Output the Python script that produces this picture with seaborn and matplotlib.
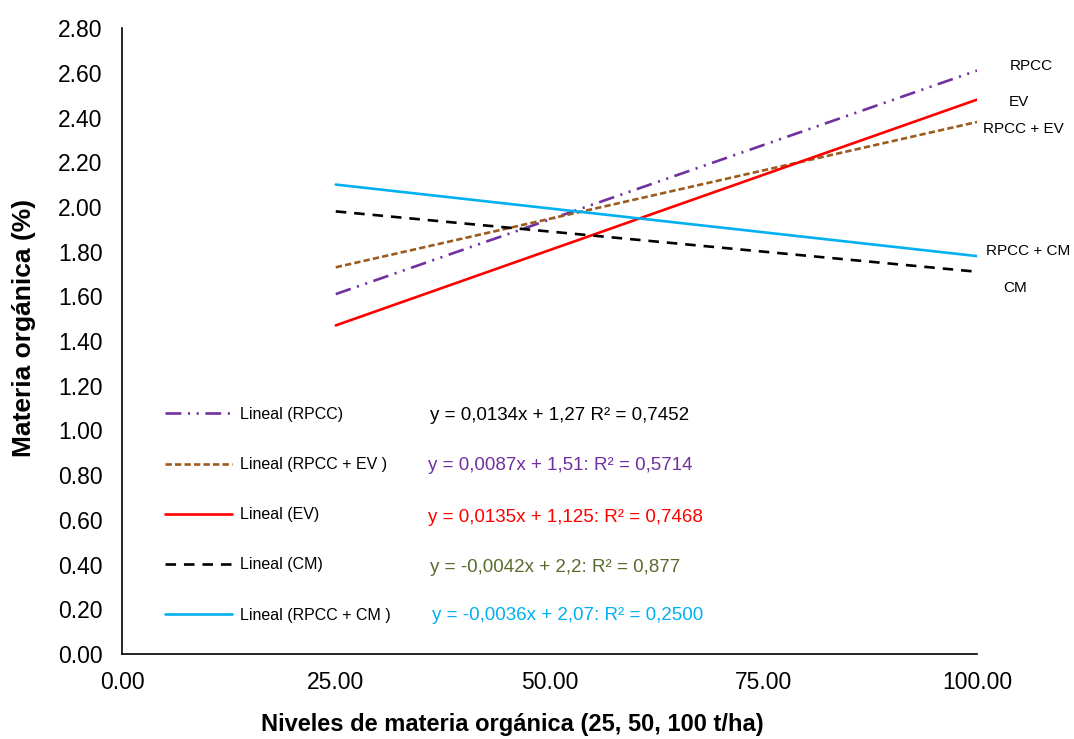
import matplotlib
matplotlib.use("Agg")
import matplotlib.pyplot as plt
import seaborn as sns
import pandas as pd
from matplotlib.lines import Line2D
from matplotlib.ticker import FormatStrFormatter

# data (trend lines, x = 25 and x = 100)
x_levels = [25, 100]
series_names = ["RPCC", "RPCC + EV", "EV", "CM", "RPCC + CM"]
rpcc = [1.61, 2.61]
rpcc_ev = [1.73, 2.38]
ev = [1.47, 2.48]
cm = [1.98, 1.71]
rpcc_cm = [2.10, 1.78]

legend_labels = ["Lineal (RPCC)", "Lineal (RPCC + EV )", "Lineal (EV)",
                 "Lineal (CM)", "Lineal (RPCC + CM )"]
equations = ["y = 0,0134x + 1,27 R² = 0,7452",
             "y = 0,0087x + 1,51: R² = 0,5714",
             "y = 0,0135x + 1,125: R² = 0,7468",
             "y = -0,0042x + 2,2: R² = 0,877",
             "y = -0,0036x + 2,07: R² = 0,2500"]

colors = ["#7030A0", "#9C5B1E", "#FF0000", "#000000", "#00B0F0"]
eq_colors = ["#000000", "#7030A0", "#FF0000", "#5A6B2E", "#00B0F0"]
styles = [(0, (6, 2.5, 0.8, 2.5, 0.8, 2.5)), (0, (2.4, 1.2)), "-",
          (0, (4, 3)), "-"]

sns.set_style("white")
plt.rcParams["font.family"] = ["Liberation Sans", "DejaVu Sans"]
plt.rcParams["text.color"] = "black"
plt.rcParams["axes.labelcolor"] = "black"
plt.rcParams["xtick.color"] = "black"
plt.rcParams["ytick.color"] = "black"

fig = plt.figure(figsize=(10.74, 7.39), dpi=100)
ax = fig.add_axes([0.1136, 0.115, 0.7961, 0.847])

values = [rpcc, rpcc_ev, ev, cm, rpcc_cm]
for name, vals, c, ls in zip(series_names, values, colors, styles):
    df = pd.DataFrame({"x": x_levels, "y": vals})
    sns.lineplot(data=df, x="x", y="y", ax=ax, color=c, linestyle=ls,
                 linewidth=1.9)

ax.set_xlim(0, 100)
ax.set_ylim(0, 2.8)
ax.set_xticks([0, 25, 50, 75, 100])
ax.set_yticks([i * 0.2 for i in range(15)])
ax.xaxis.set_major_formatter(FormatStrFormatter("%.2f"))
ax.yaxis.set_major_formatter(FormatStrFormatter("%.2f"))
ax.tick_params(axis="x", length=0, pad=12, labelsize=16.5)
ax.tick_params(axis="y", length=0, pad=14, labelsize=16.5)
for s in ["top", "right"]:
    ax.spines[s].set_visible(False)
for s in ["left", "bottom"]:
    ax.spines[s].set_color("black")
    ax.spines[s].set_linewidth(1.2)

ax.set_xlabel("Niveles de materia orgánica (25, 50, 100 t/ha)",
              fontsize=17, fontweight="bold")
ax.set_ylabel("Materia orgánica (%)", fontsize=19, fontweight="bold")
ax.xaxis.set_label_coords(0.456, -0.095)
ax.yaxis.set_label_coords(-0.101, 0.521)

handles = [Line2D([0], [0], color=c, linestyle=ls, linewidth=1.9)
           for c, ls in zip(colors, styles)]
fig.legend(handles, legend_labels, loc="upper left",
           bbox_to_anchor=(165 / 1074, 1 - 407 / 739),
           bbox_transform=fig.transFigure, frameon=False, fontsize=11.5,
           handlelength=4.2, handletextpad=0.5, labelspacing=2.2,
           borderpad=0, borderaxespad=0)

eq_x = [430, 428, 428, 430, 432]
eq_y = [415, 465, 517, 567, 616]
for t, c, px, py in zip(equations, eq_colors, eq_x, eq_y):
    fig.text(px / 1074, 1 - py / 739, t, color=c, fontsize=13.5,
             ha="left", va="center")

end_labels = [("RPCC", 1031, 66), ("EV", 1019, 102), ("RPCC + EV", 1023, 129),
              ("RPCC + CM", 1028, 251), ("CM", 1015, 288)]
for t, px, py in end_labels:
    fig.text(px / 1074, 1 - py / 739, t, fontsize=11, ha="center",
             va="center")

fig.savefig("out.png", dpi=100)
